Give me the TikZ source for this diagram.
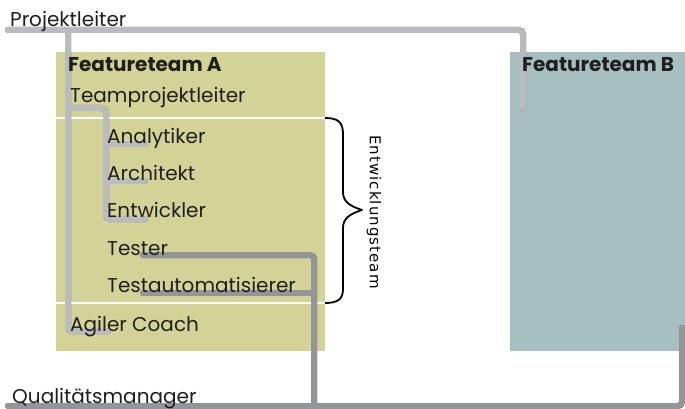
\documentclass[tikz,border=0pt]{standalone}
\usepackage{fontspec}
\setmainfont{Poppins}
\newfontfamily\sidefont[LetterSpace=7]{DejaVu Sans}
\definecolor{teamA}{RGB}{212,211,151}
\definecolor{teamB}{RGB}{166,192,193}
\definecolor{wireLight}{RGB}{186,187,191}
\definecolor{wireDark}{RGB}{88,88,92}
\definecolor{wireMid}{RGB}{148,149,153}
\definecolor{wireMidDark}{RGB}{104,105,108}
\pgfdeclarelayer{boxes}
\pgfdeclarelayer{wires}
\pgfsetlayers{boxes,wires,main}
\begin{document}
\begin{tikzpicture}[x=1pt,y=-1pt,
  lbl/.style={anchor=base west, inner sep=0pt, text=black!88, font=\fontsize{20}{23}\selectfont},
  bold/.style={font=\fontsize{20}{23}\selectfont\bfseries},
  wire/.style={line width=6pt, line cap=round, rounded corners=4pt},
  wireA/.style={wire, draw=wireLight},
  wireAshade/.style={wire, draw=wireDark, shift={(1.5,1.5)}},
  wireB/.style={wire, draw=wireMid},
  wireBshade/.style={wire, draw=wireMidDark, shift={(1.5,1.5)}},
  sep/.style={draw=white, line width=2pt},
  brace/.style={draw=black, line width=1.8pt, line join=round}
]
\useasboundingbox (0,0) rectangle (685,409);

% labels
\node[lbl] (pl)  at (10,27)  {Projektleiter};
\node[lbl,bold] (fa) at (68,72) {Featureteam A};
\node[lbl] (tpl) at (70,103) {Teamprojektleiter};
\node[lbl] (ana) at (107,143) {Analytiker};
\node[lbl] (arc) at (107,180) {Architekt};
\node[lbl] (ent) at (107,217) {Entwickler};
\node[lbl] (tes) at (107,255) {Tester};
\node[lbl] (tau) at (107,292) {Testautomatisierer};
\node[lbl] (agc) at (70,331) {Agiler Coach};
\node[lbl] (qm)  at (12,403) {Qualitätsmanager};
\node[lbl,bold] (fb) at (522,72) {Featureteam B};
\node[inner sep=0pt, rotate=-90, font=\sidefont\fontsize{15}{18}\selectfont] (et) at (374,212) {Entwicklungsteam};

% team areas
\begin{pgfonlayer}{boxes}
  \fill[teamA] (56,52) rectangle (325,351);
  \fill[teamB] (510,52) rectangle (685,351);
  \draw[sep] (56,118) -- (325,118);
  \draw[sep] (56,303) -- (325,303);
\end{pgfonlayer}

% wire end points
\coordinate (plL) at (8,30);
\coordinate (plR) at (523,30);
\coordinate (fbT) at (523,108);
\coordinate (plJ) at (68,30);
\coordinate (agcE) at (108,331);
\coordinate (tplJ) at (68,108);
\coordinate (tplC) at (106,108);
\coordinate (anaE) at (145,144);
\coordinate (arcE) at (145,181);
\coordinate (entE) at (145,219);
\coordinate (qmL) at (8,406);
\coordinate (qmR) at (682,406);
\coordinate (fbB) at (682,328);
\coordinate (tesE) at (143,255);
\coordinate (tauE) at (143,293);
\coordinate (qmJ) at (314,406);

\begin{pgfonlayer}{wires}
  % project lead lines
  \foreach \s in {wireAshade,wireA} {
    \draw[\s] (plL) -- (plR) -- (fbT);
    \draw[\s] (plJ) |- (agcE);
    \draw[\s] (tplJ) -- (tplC) |- (entE);
    \draw[\s] (tplC |- anaE) -- (anaE);
    \draw[\s] (tplC |- arcE) -- (arcE);
  }
  % quality lines
  \foreach \s in {wireBshade,wireB} {
    \draw[\s] (qmL) -- (qmR) -- (fbB);
    \draw[\s] (tesE) -| (qmJ);
    \draw[\s] (tauE) -- (qmJ |- tauE);
  }
\end{pgfonlayer}

% brace of the development team
\draw[brace] (325,118) .. controls (338,118) and (343,122) .. (343,134)
  -- (343,192) .. controls (343,202) and (350,206) .. (362,210)
  .. controls (350,214) and (343,218) .. (343,228)
  -- (343,289) .. controls (343,299) and (338,303) .. (325,303);
\end{tikzpicture}
\end{document}
